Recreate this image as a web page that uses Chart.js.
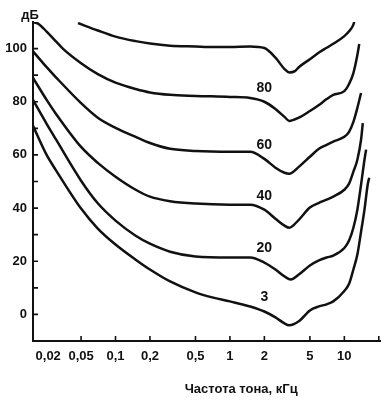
<!DOCTYPE html>
<html>
<head>
<meta charset="utf-8">
<script src="https://cdn.jsdelivr.net/npm/chart.js@4"></script>
<style>
  html, body { margin: 0; padding: 0; background: #fff; }
</style>
</head>
<body>
<canvas id="chart" width="390" height="400"></canvas>
<script>
// axis ticks
const xTickValues = [0.02, 0.05, 0.1, 0.2, 0.5, 1, 2, 5, 10, 20];
const xTickLabels = ['0,02', '0,05', '0,1', '0,2', '0,5', '1', '2', '5', '10', ''];
const yTickValues = [0, 10, 20, 30, 40, 50, 60, 70, 80, 90, 100];

// equal loudness curves: frequency (kHz) and level (dB)
const freq100 = [0.047, 0.07, 0.1, 0.15, 0.2, 0.3, 0.5, 0.7, 1, 1.5, 2, 2.5, 3, 3.3, 3.7, 4, 5, 6, 7, 8, 10, 11, 12, 12.3];
const level100 = [109.6, 106.8, 104.5, 102.8, 101.9, 101.1, 100.8, 100.6, 100.6, 100.8, 100.2, 96.6, 92.3, 91, 91.5, 93, 96, 98.5, 100.3, 101.8, 104.7, 106.5, 109, 110.7];

const freq80 = [0.019, 0.021, 0.025, 0.03, 0.035, 0.05, 0.07, 0.1, 0.15, 0.2, 0.3, 0.5, 1, 1.5, 2, 2.5, 3, 3.3, 4, 5, 6, 7, 8, 10, 11, 12, 13, 13.5];
const level80 = [110, 109.4, 106.4, 102.8, 99.8, 94.5, 90.4, 87.2, 84.8, 83.5, 82.6, 82.2, 81.8, 81.4, 80, 77.3, 74.3, 72.8, 74, 76.5, 78.8, 81, 82.6, 84, 86.7, 90.8, 97.6, 101.7];

const freq60 = [0.019, 0.025, 0.03, 0.05, 0.07, 0.1, 0.15, 0.2, 0.3, 0.5, 1, 1.5, 2, 2.5, 3, 3.3, 4, 5, 6, 7, 8, 10, 11, 12, 13, 14];
const level60 = [99, 93, 89.3, 79.5, 74, 70.2, 66.8, 64.5, 62.3, 61.5, 61.2, 61.2, 58.5, 55.2, 53.3, 52.9, 55.5, 59.3, 62.3, 63.8, 65, 66.8, 68.7, 72.4, 77.7, 83.3];

const freq40 = [0.019, 0.025, 0.03, 0.05, 0.07, 0.1, 0.15, 0.2, 0.3, 0.5, 1, 1.5, 2, 2.5, 3, 3.3, 4, 5, 6, 7, 8, 10, 11, 12, 13, 14, 14.5];
const level40 = [89, 80.7, 75.6, 63, 57, 51.8, 46.9, 44.3, 42.6, 41.7, 41.3, 41.3, 39.4, 36, 33.4, 32.6, 35.6, 40.2, 42, 43.2, 44.3, 46.9, 49.2, 53.7, 58.2, 65.7, 72];

const freq20 = [0.019, 0.025, 0.03, 0.05, 0.07, 0.1, 0.15, 0.2, 0.3, 0.5, 1, 1.5, 2, 2.5, 3, 3.4, 4, 5, 6, 7, 8, 10, 11, 12, 13, 14, 15, 15.5];
const level20 = [80.7, 71.7, 66, 50.3, 41.8, 35.3, 29.6, 26.6, 23.6, 21.8, 21.4, 21.4, 19.5, 16.9, 14.3, 13.1, 15, 18.4, 20.3, 21.4, 22.1, 25, 27.8, 32.6, 39.4, 48.8, 58.2, 62];

const freq3 = [0.019, 0.025, 0.03, 0.05, 0.07, 0.1, 0.15, 0.2, 0.3, 0.5, 0.7, 1, 1.5, 2, 2.5, 3, 3.3, 4, 5, 6, 7, 8, 10, 11, 12, 13, 14, 15, 16, 16.5];
const level3 = [71, 60, 54.4, 39.8, 32.3, 26.3, 20.6, 16.9, 12.4, 8.3, 6.4, 4.9, 3, 1.1, -1.1, -3.4, -4.1, -2.6, 1.5, 3, 3.8, 4.9, 8.8, 11.5, 16.9, 22.5, 31.1, 39.4, 48.8, 51.4];

const curveTags = ['', '80', '60', '40', '20', '3'];
const tagFreq = 2; // kHz where the curve numbers sit

const FONT = '"Liberation Sans", Arial, sans-serif';
const INK = '#111';

function toPoints(fs, ls) {
  return fs.map((f, i) => ({ x: f, y: ls[i] }));
}

const curves = [
  [freq100, level100], [freq80, level80], [freq60, level60],
  [freq40, level40], [freq20, level20], [freq3, level3]
];

// inward tick marks, titles and curve numbers
const extras = {
  id: 'extras',
  afterDraw(chart) {
    const { ctx, chartArea: a } = chart;
    const x = chart.scales.x, y = chart.scales.y;
    ctx.save();
    ctx.strokeStyle = INK;
    ctx.lineWidth = 1.6;
    ctx.beginPath();
    yTickValues.forEach(v => {
      const py = y.getPixelForValue(v);
      ctx.moveTo(a.left, py);
      ctx.lineTo(a.left + 5, py);
    });
    xTickValues.slice(1).forEach(v => {
      const px = x.getPixelForValue(v);
      ctx.moveTo(px, a.bottom);
      ctx.lineTo(px, a.bottom - 5);
    });
    ctx.stroke();

    ctx.fillStyle = INK;
    ctx.font = 'bold 13px ' + FONT;
    ctx.textAlign = 'center';
    ctx.textBaseline = 'middle';
    ctx.fillText('дБ', a.left - 3, a.top - 7);
    ctx.fillText('Частота тона, кГц', a.left + (a.right - a.left) * 0.6, 389);

    ctx.font = 'bold 14px ' + FONT;
    curves.forEach((c, i) => {
      if (!curveTags[i]) return;
      const k = c[0].indexOf(tagFreq);
      const px = x.getPixelForValue(tagFreq);
      const py = y.getPixelForValue(c[1][k]) - 14;
      ctx.fillText(curveTags[i], px, py);
    });
    ctx.restore();
  }
};

const ctx = document.getElementById('chart').getContext('2d');
new Chart(ctx, {
  type: 'line',
  data: {
    datasets: curves.map(c => ({
      data: toPoints(c[0], c[1]),
      borderColor: INK,
      borderWidth: 2.5,
      pointRadius: 0,
      fill: false,
      cubicInterpolationMode: 'monotone'
    }))
  },
  options: {
    responsive: false,
    animation: false,
    devicePixelRatio: 1,
    layout: { padding: { left: 0, top: 22, right: 10, bottom: 0 } },
    plugins: { legend: { display: false }, tooltip: { enabled: false } },
    scales: {
      x: {
        type: 'logarithmic',
        min: 0.019,
        max: 20.5,
        afterBuildTicks: s => { s.ticks = xTickValues.map(v => ({ value: v })); },
        afterFit: s => { s.height = 59; },
        grid: { drawOnChartArea: false, drawTicks: false },
        border: { color: INK, width: 2 },
        ticks: {
          align: 'inner',
          padding: 8,
          color: INK,
          autoSkip: false,
          maxRotation: 0,
          font: { family: FONT, size: 13, weight: 'bold' },
          callback: (v, i) => xTickLabels[i]
        }
      },
      y: {
        min: -10,
        max: 110,
        afterBuildTicks: s => { s.ticks = yTickValues.map(v => ({ value: v })); },
        afterFit: s => { s.width = 33; },
        grid: { drawOnChartArea: false, drawTicks: false },
        border: { color: INK, width: 2 },
        ticks: {
          padding: 6,
          color: INK,
          autoSkip: false,
          font: { family: FONT, size: 13, weight: 'bold' },
          callback: v => (v % 20 === 0 ? String(v) : '')
        }
      }
    }
  },
  plugins: [extras]
});
</script>
</body>
</html>
